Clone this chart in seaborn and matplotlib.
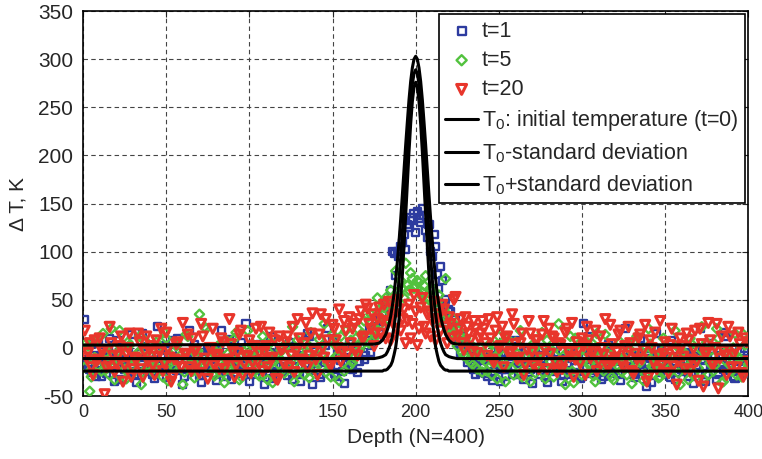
import numpy as np
import pandas as pd
import matplotlib
matplotlib.use("Agg")
import matplotlib.pyplot as plt
import seaborn as sns

# depth positions of the noisy profiles
depth_odd = np.arange(1, 401, 2)
depth_even = np.arange(2, 401, 2)

# t=1 (blue squares), depth 1,3,...,399 and 2,4,...,400
t1_odd = [
    30, -18, -25, -8, 5, -30, -14, -2, -20, -35, 8, -12, -22, -5, 14, -28, -10, -17, 2, -24,
    -15, -32, 22, -8, -20, -3, -26, -12, 10, -18, -30, -6, -14, 4, -22, -36, -10, -1, -19, -27,
    -9, 18, -24, -13, -33, -4, -17, 6, -21, -11, -28, 0, -15, -7, -38, -12, 12, -25, -6, -19,
    -14, -29, 2, -20, -8, -35, -11, 15, -23, -4, -16, -31, -9, 20, -18, -26, -2, -13, -37, -10,
    -18, -8, -25, 2, -12, 8, -5, 18, 10, 28, 35, 42, 60, 98, 100, 105, 118, 128, 135, 140,
    142, 130, 138, 115, 100, 118, 76, 85, 45, 30, 38, 12, 20, -5, 8, -15, -2, -22, -10, -25,
    -18, -30, -8, -24, -12, -35, -5, -20, -14, -28, 2, -16, -33, -9, -22, -3, -18, -27, -11, -36,
    -7, -21, -13, 5, -29, -16, -4, -25, -10, -32, 25, -19, -1, -23, -14, -8, -30, -17, -6, -26,
    -12, -34, -3, -20, -15, -27, -8, 10, -22, -40, -11, -18, 15, -25, -6, -13, -31, -9, -21, -16,
    -24, -5, -14, -37, -10, 20, -19, -28, -2, -16, -33, -8, -22, 12, -13, -30, -18, -4, -26, -11,
]
t1_even = [
    -12, -22, 5, -30, -16, -4, -26, 10, -19, -8, -33, -14, 2, -24, -10, -36, -6, 15, -21, -13,
    -27, -9, -18, 3, -31, -15, 8, -23, -5, -38, -12, 18, -20, -2, -29, -11, -25, 0, -16, -34,
    -3, -21, -30, 9, -14, -26, -7, -18, 25, -35, -10, -22, 4, -28, -13, -6, -32, -17, -1, -24,
    -20, 6, -33, -12, -25, -2, -18, 12, -38, -9, -27, -15, 3, -21, 10, -30, -7, -24, -14, 5,
    -22, -3, -14, 10, -8, 20, 5, 30, 15, 22, 48, 38, 100, 75, 95, 110, 102, 125, 132, 120,
    135, 145, 122, 128, 95, 105, 62, 70, 50, 40, 22, 30, 5, 12, -8, 2, -18, -28, -12, -20,
    -26, -10, -34, -16, -4, -22, -30, -9, -19, 8, -28, -14, -3, -25, -37, -12, -20, 0, -31, -15,
    -24, -5, -17, -35, -11, -27, -2, -20, -13, -30, -8, 12, -26, -18, -6, -33, -15, 4, -23, -10,
    -28, -14, 20, -19, -7, -31, -12, -24, 0, -17, -36, -9, -21, -3, -27, -15, 8, -33, -11, -22,
    -7, -30, -16, -2, -25, -13, -35, 5, -20, -9, -28, -17, 16, -23, -6, -32, -14, -26, -1, -18,
]

# t=5 (green diamonds), depth 2,4,...,400 and 1,3,...,399
t5_even = [
    5, -45, -12, 8, -20, 15, -5, -28, 0, -15, 18, -10, -32, 3, -18, -8, 12, -25, -2, -14,
    -22, 6, -16, -30, 10, -6, -19, 2, -12, -38, 14, -9, -24, -3, 35, -17, 20, -11, -27, -4,
    -13, -26, 8, -20, -7, 16, -33, -15, -1, -21, 4, -10, -29, 12, -18, -5, -36, -12, 7, -23,
    -8, -16, 22, -27, -3, -14, 5, -31, -11, -20, 9, -6, -25, -15, 14, -9, -34, 0, 18, -19,
    -15, 10, -2, 15, 35, 5, 22, 12, 40, 30, 52, 38, 45, 80, 55, 62, 88, 60, 72, 65,
    68, 58, 75, 50, 62, 42, 55, 30, 72, 20, 32, 8, 18, -5, 10, -12, 2, -20, -8, -25,
    -14, 0, -28, -9, 12, -18, -35, -4, -22, 6, -13, -30, -7, -19, 3, -26, -11, 16, -32, -2,
    -20, -8, 25, -15, -38, -5, -24, 10, -12, -28, -3, -17, 5, -35, -10, -21, 14, -6, -30, -14,
    -9, -25, 2, -16, -37, 8, -12, -4, -27, 20, -19, -7, -31, -13, 0, -22, -10, 18, -26, -5,
    -15, -33, 4, -11, -21, 22, -8, -28, -2, -18, 10, -36, -13, -6, -24, 15, -10, -30, 3, -17,
]
t5_odd = [
    -20, 2, -30, -10, 10, -24, -6, -16, 20, -33, -12, -2, -22, 6, -28, -14, -5, -38, 8, -18,
    -9, -27, 0, -15, 16, -34, -11, -21, 4, -7, -25, 12, -17, -31, -3, -13, 22, -20, -8, -29,
    2, -16, -36, -6, -24, 10, -12, -30, -4, 18, -19, -9, -27, 0, -14, -33, 6, -22, -10, -2,
    -26, 3, -13, -35, 8, -18, -28, -5, 16, -22, -11, -1, 25, -16, -30, 4, -8, 12, -24, 2,
    8, -10, 20, 2, 28, 12, 35, 18, 52, 25, 42, 30, 60, 48, 58, 70, 52, 65, 78, 62,
    70, 55, 65, 45, 60, 38, 48, 28, 40, 35, 15, 25, 2, 12, -8, 5, -15, -5, -22, 0,
    -10, -24, 5, -16, -32, -2, -20, 10, -13, -28, -6, 18, -22, -9, -35, 0, -17, -4, -26, 8,
    -14, -30, 2, -19, -8, -25, 12, -36, -11, -3, -21, 6, -16, -29, 15, -7, -24, -12, 0, -33,
    -18, 6, -10, -28, -2, -22, 12, -15, -34, -6, 4, -20, -12, -30, 10, -8, -25, -16, 2, -38,
    -4, -20, 10, -27, -13, -1, -32, 6, -16, -24, 20, -9, -35, -3, -18, 0, -28, -11, 14, -22,
]

# t=20 (red triangles), depth 1,3,...,399 and 2,4,...,400
t20_odd = [
    18, -5, -20, 8, -12, -2, -48, -15, 5, -25, -8, 12, -18, 0, -30, -10, 15, -22, -4, -14,
    2, -28, -9, 20, -16, -1, -35, -12, 6, -20, -6, 14, -24, -3, -15, 25, -11, -32, 0, -18,
    -7, 10, -22, -13, 4, -30, -5, 18, -16, -9, -26, 2, -14, 22, -4, -20, -11, 8, -33, -2,
    -17, 12, -8, -25, 30, -12, 5, -20, 15, -3, -28, 35, -10, 8, -18, 20, 0, -14, 28, -6,
    5, 25, -8, 38, 12, 41, 20, 2, 30, 15, 45, 25, 8, 35, 50, 18, 40, 28, 10, 55,
    3, 42, 22, 35, 12, 48, 30, 18, 40, 5, 25, 50, 12, 30, -2, 22, 8, 28, -5, 15,
    20, -8, 10, -15, 32, 2, -20, 12, -4, 25, -12, 5, -28, -2, 15, -18, 8, -10, 28, -22,
    -6, 10, -25, 3, -14, 20, -9, -30, 6, -16, 2, 22, -11, -3, -24, 12, -7, -18, 24, -13,
    -4, 18, -20, -8, 5, -27, -12, 14, -2, -35, 8, -15, -22, 28, -6, -10, 3, -19, -38, 10,
    -9, 15, -24, -1, -14, 20, -40, -5, 8, -17, 25, -11, -3, -28, 12, -7, -20, 4, -30, 6,
]
t20_even = [
    -10, 5, -28, -14, 10, -3, -20, 22, -8, -16, 2, -35, -6, 15, -22, -12, 6, -30, 12, -2,
    -18, 8, -4, -24, 16, -10, -30, 4, -14, 26, -7, -20, 10, -2, -26, 12, -16, 0, 20, -9,
    -22, 6, -12, 30, -3, -18, 14, -28, -8, 8, -15, 20, -5, -24, 2, 16, -10, -32, 12, -1,
    6, -20, 22, -4, 10, -14, 26, -8, 36, -12, 14, 0, 30, -16, 24, 8, 40, -4, 18, 32,
    20, -2, 30, 10, 45, 25, 35, 15, 42, 28, 10, 48, 32, 20, 40, 30, 5, 45, 25, 38,
    20, 52, 15, 38, 28, 8, 35, 45, 22, 32, 10, 53, 20, 5, 32, 15, -4, 20, 10, 28,
    5, 30, -12, 18, 0, 22, 10, -6, 35, 4, -10, 15, -18, 28, -4, 8, -22, 14, -2, 20,
    12, -15, 5, -22, 16, -4, 26, -12, -2, 10, -28, 8, -6, 18, -14, 0, 30, -20, 4, -10,
    14, -16, 2, 22, -24, -6, 10, -12, 24, -30, 0, 16, -8, -18, 6, -26, 20, -4, -14, 2,
    -22, 8, -12, 18, -34, 4, -6, 26, -16, 0, -42, 12, -8, 22, -20, -2, 16, -26, 10, -14,
]

# initial temperature profile and +/- standard deviation
line_depth = [0, 175, 178] + list(range(180, 221)) + [222, 225, 400]
t0_vals = [
    -11, -11, -10, -9, -8, -7, -4, 0, 5, 12, 22, 35, 51, 71, 94, 120, 148, 177, 206, 233, 256,
    274, 285, 289, 285, 274, 256, 233, 206, 177, 148, 120, 94, 71, 51, 35, 22, 12, 5, 0, -4,
    -7, -8, -9, -10, -11, -11,
]
t0_minus = [
    -24, -24, -24, -24, -23, -23, -22, -20, -18, -14, -7, 1, 14, 30, 51, 76, 106, 138, 171, 204,
    233, 256, 271, 276, 271, 256, 233, 204, 171, 138, 106, 76, 51, 30, 14, 1, -7, -14, -18, -20,
    -22, -23, -23, -24, -24, -24, -24,
]
t0_plus = [
    3, 4, 5, 8, 11, 14, 19, 25, 33, 44, 56, 72, 90, 111, 134, 159, 185, 211, 235, 258, 277,
    291, 300, 303, 300, 291, 277, 258, 235, 211, 185, 159, 134, 111, 90, 72, 56, 44, 33, 25, 19,
    14, 11, 8, 5, 4, 3,
]

sns.set_style("white")
plt.rcParams["font.family"] = ["Liberation Sans Narrow", "Liberation Sans", "DejaVu Sans"]
plt.rcParams["mathtext.default"] = "regular"
plt.rcParams["axes.unicode_minus"] = False

t1 = pd.DataFrame({"depth": np.concatenate([depth_odd, depth_even]),
                   "dT": t1_odd + t1_even})
t5 = pd.DataFrame({"depth": np.concatenate([depth_even, depth_odd]),
                   "dT": t5_even + t5_odd})
t20 = pd.DataFrame({"depth": np.concatenate([depth_odd, depth_even]),
                    "dT": t20_odd + t20_even})

fig = plt.figure(figsize=(7.62, 4.59), dpi=100)
ax = fig.add_axes([0.109, 0.137, 0.873, 0.839])

sns.scatterplot(data=t1, x="depth", y="dT", marker="s", s=26, facecolor="none",
                edgecolor="#2d3b9f", linewidth=1.7, label="t=1", ax=ax, zorder=3)
sns.scatterplot(data=t5, x="depth", y="dT", marker="D", s=22, facecolor="none",
                edgecolor="#52c23e", linewidth=1.7, label="t=5", ax=ax, zorder=3)
sns.scatterplot(data=t20, x="depth", y="dT", marker="v", s=42, facecolor="none",
                edgecolor="#e8352b", linewidth=2.2, label="t=20", ax=ax, zorder=3)

lines = pd.DataFrame({"depth": line_depth, "T0": t0_vals,
                      "minus": t0_minus, "plus": t0_plus})
sns.lineplot(data=lines, x="depth", y="T0", color="k", lw=2.2, sort=False,
             label="T$_0$: initial temperature (t=0)", ax=ax, zorder=4)
sns.lineplot(data=lines, x="depth", y="minus", color="k", lw=2.2, sort=False,
             label="T$_0$-standard deviation", ax=ax, zorder=4)
sns.lineplot(data=lines, x="depth", y="plus", color="k", lw=2.2, sort=False,
             label="T$_0$+standard deviation", ax=ax, zorder=4)

ax.set_xlim(0, 400)
ax.set_ylim(-50, 350)
ax.set_xticks(range(0, 401, 50))
ax.set_yticks(range(-50, 351, 50))
ax.grid(True, color="#444444", linestyle=(0, (4, 3)), linewidth=0.8)
ax.tick_params(direction="in", length=4, top=True, right=True)
ax.tick_params(axis="x", labelsize=13, pad=6)
ax.tick_params(axis="y", labelsize=15, pad=7)
for sp in ax.spines.values():
    sp.set_color("k")
    sp.set_linewidth(1.2)

ax.set_xlabel("Depth (N=400)", fontsize=15, labelpad=5)
ax.set_ylabel("\u0394 T, K", fontsize=15, labelpad=8)

leg = ax.legend(loc="upper right", fontsize=15.5, frameon=True, fancybox=False,
                edgecolor="k", framealpha=1, handlelength=1.5, handletextpad=0.2,
                borderaxespad=0.15, labelspacing=0.38, borderpad=0.3, markerscale=1.1)
leg.get_frame().set_linewidth(1.2)

fig.savefig("out.png", dpi=100)
